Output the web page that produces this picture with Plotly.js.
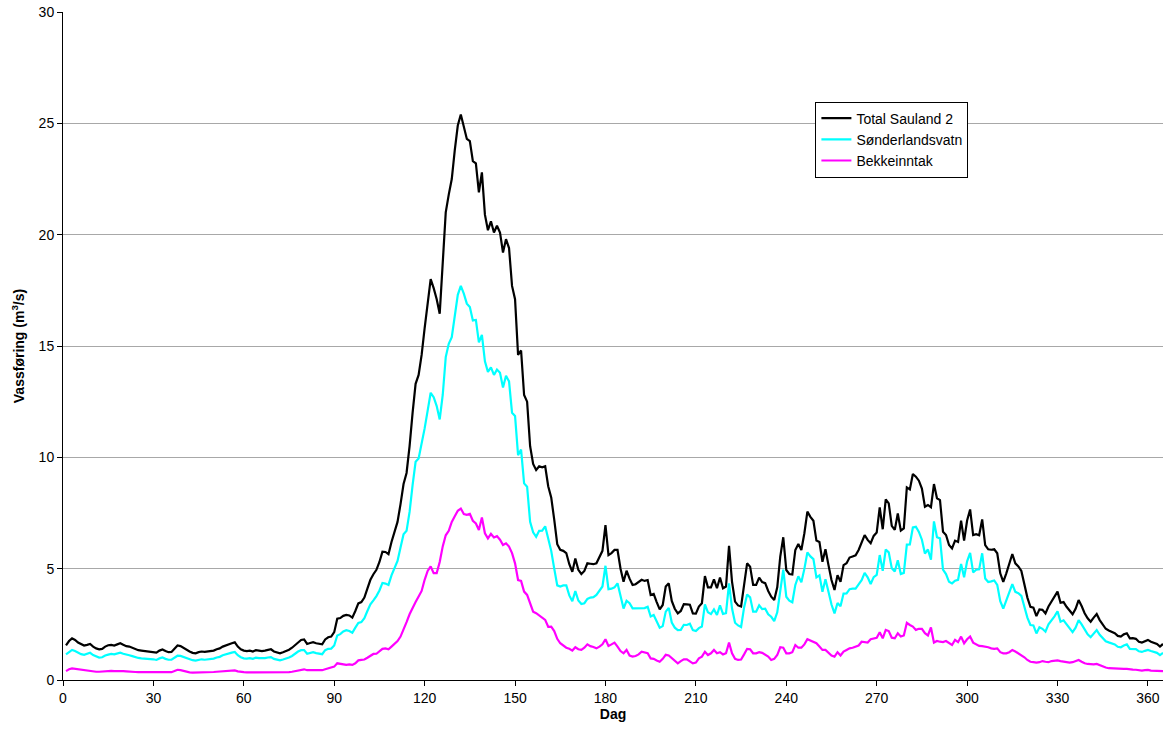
<!DOCTYPE html>
<html>
<head>
<meta charset="utf-8">
<script src="https://cdn.plot.ly/plotly-3.0.1.min.js"></script>
<style>html,body{margin:0;padding:0;background:#fff;}#chart{width:1163px;height:740px;}</style>
</head>
<body>
<div id="chart"></div>
<script>
// Day numbers 1..365 are the category axis
const seriesNames = ["Total Sauland 2", "Sønderlandsvatn", "Bekkeinntak"];
const xTickValues = [0, 30, 60, 90, 120, 150, 180, 210, 240, 270, 300, 330, 360];
const yTickValues = [0, 5, 10, 15, 20, 25, 30];

const totalSauland = [
1.55,1.75,1.87,1.8,1.68,1.6,1.55,1.58,1.62,1.5,
1.42,1.38,1.4,1.5,1.56,1.58,1.55,1.6,1.65,1.58,
1.52,1.5,1.45,1.38,1.34,1.32,1.3,1.3,1.28,1.27,
1.23,1.32,1.37,1.3,1.25,1.26,1.4,1.55,1.52,1.43,
1.35,1.28,1.22,1.2,1.25,1.28,1.26,1.27,1.3,1.32,
1.38,1.42,1.5,1.56,1.62,1.65,1.69,1.5,1.38,1.32,
1.3,1.32,1.28,1.34,1.32,1.3,1.32,1.36,1.38,1.28,
1.23,1.2,1.25,1.3,1.36,1.45,1.58,1.7,1.8,1.82,
1.62,1.66,1.7,1.65,1.64,1.6,1.82,1.92,1.95,2.15,
2.75,2.78,2.88,2.92,2.9,2.8,3.1,3.44,3.5,3.7,
4.1,4.5,4.75,4.95,5.3,5.76,5.75,5.65,6.2,6.7,
7.1,7.9,8.8,9.3,10.5,12.0,13.3,13.7,14.6,15.8,
17.0,18.0,17.6,17.1,16.45,18.8,21.0,21.8,22.5,23.8,
24.9,25.4,24.8,24.3,24.2,23.3,23.2,21.9,22.8,20.9,
20.2,20.6,20.1,20.4,20.1,19.2,19.8,19.4,17.7,17.1,
14.6,14.8,12.8,12.5,10.5,9.7,9.43,9.6,9.55,9.6,
8.7,8.2,7.2,6.1,5.85,5.8,5.7,5.2,4.86,5.46,
4.95,4.76,4.9,5.24,5.22,5.2,5.24,5.5,5.8,6.96,
5.61,5.7,5.84,5.84,5.0,4.41,4.91,4.55,4.27,4.3,
4.4,4.5,4.45,4.49,3.82,3.87,3.5,3.17,3.37,4.2,
4.34,3.55,3.2,2.99,3.1,3.41,3.4,3.38,2.99,2.98,
3.3,3.45,4.67,4.16,4.16,4.52,4.12,4.6,4.12,4.2,
6.02,4.41,3.52,3.35,3.3,4.41,5.24,5.09,4.27,4.27,
4.6,4.4,4.35,4.0,3.74,3.59,4.16,5.54,6.41,4.94,
4.76,4.74,5.84,6.11,5.84,6.59,7.56,7.33,7.15,6.26,
6.2,5.31,5.87,5.16,4.49,4.04,4.71,4.41,5.16,5.24,
5.5,5.55,5.6,5.84,6.2,6.51,6.29,6.14,6.47,6.62,
7.75,6.77,8.11,7.93,6.92,6.74,7.48,6.71,6.81,8.65,
8.56,9.25,9.13,8.95,8.6,7.78,7.86,7.76,8.8,8.16,
8.08,6.66,6.51,6.06,5.91,6.26,6.2,7.16,6.26,7.16,
7.66,6.51,6.55,6.5,7.21,6.06,5.87,5.85,5.87,5.69,
4.79,4.41,4.79,5.2,5.66,5.24,5.1,4.9,4.27,3.7,
3.29,3.25,2.87,3.17,3.15,2.99,3.3,3.52,3.74,3.97,
3.47,3.5,3.29,3.1,2.95,3.2,3.59,3.32,3.0,2.77,
2.62,2.8,2.96,2.69,2.5,2.3,2.22,2.15,2.1,1.98,
1.95,2.05,2.1,1.87,1.88,1.85,1.72,1.68,1.75,1.8,
1.72,1.68,1.62,1.5,1.62
];

const sonderlandsvatn = [
1.15,1.27,1.35,1.3,1.22,1.16,1.13,1.18,1.22,1.12,
1.05,1.01,1.02,1.1,1.14,1.17,1.15,1.19,1.23,1.18,
1.13,1.11,1.07,1.02,0.99,0.97,0.95,0.96,0.94,0.93,
0.9,0.97,1.01,0.95,0.91,0.91,1.0,1.09,1.08,1.03,
0.98,0.94,0.89,0.87,0.91,0.93,0.91,0.92,0.94,0.96,
1.01,1.04,1.11,1.16,1.21,1.23,1.26,1.11,1.02,0.97,
0.96,0.98,0.95,1.0,0.98,0.97,0.98,1.01,1.03,0.95,
0.91,0.88,0.92,0.96,1.01,1.08,1.19,1.28,1.34,1.34,
1.18,1.22,1.25,1.21,1.2,1.16,1.34,1.4,1.41,1.55,
2.0,2.06,2.18,2.24,2.2,2.12,2.35,2.56,2.6,2.78,
3.1,3.4,3.58,3.77,4.02,4.36,4.33,4.27,4.7,5.05,
5.35,5.95,6.55,6.7,7.55,8.75,9.8,9.95,10.6,11.3,
12.1,12.9,12.7,12.3,11.7,12.8,14.5,15.1,15.4,16.45,
17.3,17.7,17.35,16.9,16.75,16.15,16.17,15.16,15.5,14.31,
13.84,14.04,13.7,13.94,13.8,13.14,13.66,13.41,12.0,11.86,
10.1,10.35,8.83,8.68,7.1,6.63,6.43,6.7,6.71,6.9,
6.31,5.8,5.0,4.25,4.2,4.25,4.25,3.8,3.54,3.99,
3.57,3.41,3.45,3.64,3.7,3.72,3.82,4.0,4.2,5.13,
4.08,4.1,4.16,4.34,3.7,3.21,3.56,3.45,3.22,3.22,
3.25,3.23,3.23,3.29,2.85,2.92,2.62,2.35,2.42,3.07,
3.24,2.58,2.35,2.24,2.25,2.48,2.47,2.53,2.24,2.2,
2.33,2.4,3.4,3.04,2.96,3.17,2.92,3.35,2.97,3.0,
4.34,3.21,2.57,2.45,2.38,3.26,3.84,3.71,3.07,3.07,
3.35,3.18,3.2,2.95,2.84,2.64,3.04,4.07,4.96,3.74,
3.56,3.49,4.27,4.66,4.39,4.99,5.73,5.55,5.43,4.61,
4.7,3.96,4.52,3.96,3.39,2.99,3.46,3.31,3.88,3.89,
4.08,4.1,4.1,4.29,4.48,4.81,4.61,4.31,4.62,4.72,
5.61,4.9,5.86,5.73,5.02,4.87,5.38,4.76,4.81,6.08,
6.09,6.85,6.88,6.65,6.3,5.68,5.86,5.4,7.12,6.41,
6.36,4.96,4.76,4.41,4.34,4.46,4.5,5.21,4.61,5.33,
5.71,4.83,4.95,4.97,5.69,4.56,4.4,4.43,4.47,4.27,
3.54,3.21,3.59,3.95,4.31,3.96,3.9,3.78,3.25,2.8,
2.47,2.45,2.09,2.37,2.3,2.17,2.5,2.67,2.86,3.09,
2.62,2.68,2.49,2.32,2.15,2.35,2.69,2.5,2.25,2.05,
1.92,2.1,2.24,2.03,1.9,1.74,1.69,1.63,1.6,1.49,
1.47,1.55,1.6,1.4,1.41,1.39,1.29,1.26,1.31,1.35,
1.3,1.27,1.22,1.12,1.22
];

const bekkeinntak = [
0.4,0.48,0.52,0.5,0.46,0.44,0.42,0.4,0.4,0.38,
0.37,0.37,0.38,0.4,0.42,0.41,0.4,0.41,0.42,0.4,
0.39,0.39,0.38,0.36,0.35,0.35,0.35,0.34,0.34,0.34,
0.33,0.35,0.36,0.35,0.34,0.35,0.4,0.46,0.44,0.4,
0.37,0.34,0.33,0.33,0.34,0.35,0.35,0.35,0.36,0.36,
0.37,0.38,0.39,0.4,0.41,0.42,0.43,0.39,0.36,0.35,
0.34,0.34,0.33,0.34,0.34,0.33,0.34,0.35,0.35,0.33,
0.32,0.32,0.33,0.34,0.35,0.37,0.39,0.42,0.46,0.48,
0.44,0.44,0.45,0.44,0.44,0.44,0.48,0.52,0.54,0.6,
0.75,0.72,0.7,0.68,0.7,0.68,0.75,0.88,0.9,0.92,
1.0,1.1,1.17,1.18,1.28,1.4,1.42,1.38,1.5,1.65,
1.75,1.95,2.25,2.6,2.95,3.25,3.5,3.75,4.0,4.5,
4.9,5.1,4.8,4.8,5.3,6.0,6.5,6.7,7.1,7.35,
7.6,7.7,7.45,7.42,7.46,7.15,7.03,6.74,7.3,6.59,
6.36,6.56,6.4,6.46,6.3,6.06,6.14,5.99,5.7,5.24,
4.49,4.45,3.97,3.82,3.4,3.07,3.0,2.9,2.84,2.7,
2.39,2.4,2.2,1.85,1.65,1.55,1.45,1.4,1.32,1.47,
1.38,1.35,1.45,1.6,1.52,1.48,1.42,1.5,1.6,1.83,
1.53,1.6,1.68,1.5,1.3,1.2,1.35,1.1,1.05,1.08,
1.15,1.27,1.22,1.2,0.97,0.95,0.88,0.82,0.95,1.13,
1.1,0.97,0.85,0.75,0.85,0.93,0.93,0.85,0.75,0.78,
0.97,1.05,1.27,1.12,1.2,1.35,1.2,1.25,1.15,1.2,
1.68,1.2,0.95,0.9,0.92,1.15,1.4,1.38,1.2,1.2,
1.25,1.22,1.15,1.05,0.9,0.95,1.12,1.47,1.45,1.2,
1.2,1.25,1.57,1.45,1.45,1.6,1.83,1.78,1.72,1.65,
1.5,1.35,1.35,1.2,1.1,1.05,1.25,1.1,1.28,1.35,
1.42,1.45,1.5,1.55,1.72,1.7,1.68,1.83,1.85,1.9,
2.14,1.87,2.25,2.2,1.9,1.87,2.1,1.95,2.0,2.57,
2.47,2.4,2.25,2.3,2.3,2.1,2.0,2.36,1.68,1.75,
1.72,1.7,1.75,1.65,1.57,1.8,1.7,1.95,1.65,1.83,
1.95,1.68,1.6,1.53,1.52,1.5,1.47,1.42,1.4,1.42,
1.25,1.2,1.2,1.25,1.35,1.28,1.2,1.12,1.02,0.9,
0.82,0.8,0.78,0.8,0.85,0.82,0.8,0.85,0.88,0.88,
0.85,0.82,0.8,0.78,0.8,0.85,0.9,0.82,0.75,0.72,
0.7,0.7,0.72,0.66,0.6,0.56,0.53,0.52,0.5,0.49,
0.48,0.5,0.5,0.47,0.47,0.46,0.43,0.42,0.44,0.45,
0.42,0.41,0.4,0.38,0.4
];

const days = totalSauland.map((_, i) => i + 1);
const seriesValues = [totalSauland, sonderlandsvatn, bekkeinntak];
const seriesColors = ["#000000", "#00FFFF", "#FF00FF"];

const font = "Liberation Sans, Arial, sans-serif";
const traces = seriesValues.map((vals, k) => ({
  x: days, y: vals, type: "scatter", mode: "lines", name: seriesNames[k],
  line: {color: seriesColors[k], width: 2.2}
}));

const layout = {
  width: 1163, height: 740,
  margin: {l: 63, r: 0, t: 12, b: 60},
  paper_bgcolor: "#fff", plot_bgcolor: "#fff",
  font: {family: font, size: 14, color: "#000"},
  showlegend: true,
  legend: {x: 0.684, y: 0.866, xanchor: "left", yanchor: "top",
    bgcolor: "#fff", bordercolor: "#000", borderwidth: 1,
    font: {family: font, size: 14, color: "#000"}, itemwidth: 30,
    tracegroupgap: 0},
  xaxis: {range: [0, 365], tickvals: xTickValues, ticks: "outside", ticklen: 5,
    tickcolor: "#000", showline: true, linecolor: "#000", linewidth: 1,
    showgrid: false, zeroline: false,
    tickfont: {family: font, size: 14},
    title: {text: "<b>Dag</b>", font: {family: font, size: 14}, standoff: 3}},
  yaxis: {range: [0, 30], tickvals: yTickValues, ticks: "outside", ticklen: 5,
    tickcolor: "#000", showline: true, linecolor: "#000", linewidth: 1,
    showgrid: true, gridcolor: "#a8a8a8", gridwidth: 1, zeroline: false,
    tickfont: {family: font, size: 14},
    title: {text: "<b>Vassføring (m<sup>3</sup>/s)</b>", font: {family: font, size: 14}, standoff: 10}}
};

Plotly.newPlot("chart", traces, layout, {displayModeBar: false, staticPlot: true});
</script>
</body>
</html>
